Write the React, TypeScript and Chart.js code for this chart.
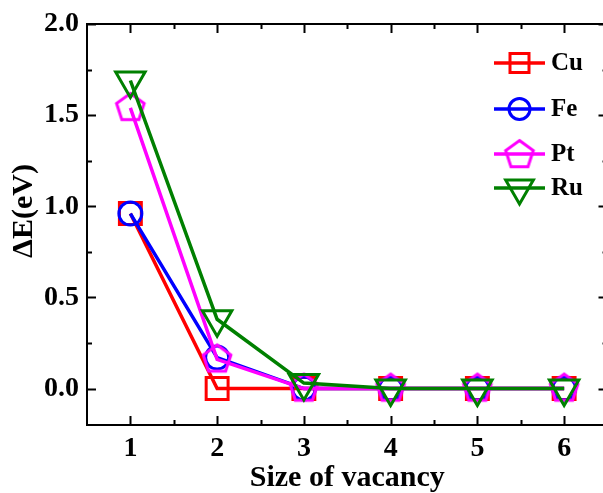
import { useEffect, useRef } from "react";
import { Chart, registerables } from "chart.js";

Chart.register(...registerables);

// ---- data ----
const sizes = [1, 2, 3, 4, 5, 6];
const cuValues = [0.96, 0, 0, 0, 0, 0];
const feValues = [0.96, 0.17, 0, 0, 0, 0];
const ptValues = [1.54, 0.16, 0, 0, 0, 0];
const ruValues = [1.69, 0.38, 0.03, 0, 0, 0];
const seriesNames = ["Cu", "Fe", "Pt", "Ru"];
const xTicks = [1, 2, 3, 4, 5, 6];
const yTicks = [0, 0.5, 1.0, 1.5, 2.0];
const xTitle = "Size of vacancy";
const yTitle = "ΔE(eV)";

const FONT = "'Liberation Serif', 'Times New Roman', serif";
const RED = "#ff0000";
const BLUE = "#0000ff";
const MAGENTA = "#ff00ff";
const GREEN = "#008000";

function makePentagon(r: number, color: string, lw: number): HTMLCanvasElement {
  const size = Math.ceil(r * 2 + lw * 2 + 4);
  const s = size % 2 === 0 ? size : size + 1;
  const c = document.createElement("canvas");
  c.width = s;
  c.height = s;
  const ctx = c.getContext("2d")!;
  ctx.strokeStyle = color;
  ctx.lineWidth = lw;
  ctx.lineJoin = "miter";
  ctx.beginPath();
  for (let i = 0; i < 5; i++) {
    const ang = -Math.PI / 2 + (i * 2 * Math.PI) / 5;
    const px = s / 2 + r * Math.cos(ang);
    const py = s / 2 + r * Math.sin(ang);
    if (i === 0) ctx.moveTo(px, py);
    else ctx.lineTo(px, py);
  }
  ctx.closePath();
  ctx.stroke();
  return c;
}

function toPoints(vals: number[]) {
  return sizes.map((s, i) => ({ x: s, y: vals[i] }));
}

export default function App() {
  const ref = useRef<HTMLCanvasElement>(null);

  useEffect(() => {
    if (!ref.current) return;
    const pentagon = makePentagon(14.5, MAGENTA, 3);

    const markerInfo: Record<string, any> = {
      Cu: { color: RED, style: "rect", radius: 15.5, rotation: 0 },
      Fe: { color: BLUE, style: "circle", radius: 11.5, rotation: 0 },
      Pt: { color: MAGENTA, style: pentagon, radius: 14.5, rotation: 0 },
      Ru: { color: GREEN, style: "triangle", radius: 17, rotation: 180 },
    };
    const valuesByName: Record<string, number[]> = {
      Cu: cuValues,
      Fe: feValues,
      Pt: ptValues,
      Ru: ruValues,
    };

    // draw order: later series on top -> put them first
    const drawOrder = [...seriesNames].reverse();
    const datasets = drawOrder.map((name) => {
      const m = markerInfo[name];
      return {
        label: name,
        data: toPoints(valuesByName[name]),
        borderColor: m.color,
        backgroundColor: "rgba(0,0,0,0)",
        borderWidth: 3.5,
        pointStyle: m.style,
        pointRadius: m.radius,
        pointRotation: m.rotation,
        pointBorderColor: m.color,
        pointBackgroundColor: "rgba(0,0,0,0)",
        pointBorderWidth: 3,
        tension: 0,
        fill: false,
      };
    });

    const framePlugin = {
      id: "frameTicks",
      beforeDatasetsDraw(chart: any) {
        const { ctx, chartArea: a, scales } = chart;
        const x = scales.x;
        const y = scales.y;
        ctx.save();
        ctx.strokeStyle = "#000";
        ctx.lineWidth = 2;
        ctx.strokeRect(a.left, a.top, a.right - a.left, a.bottom - a.top);
        ctx.beginPath();
        for (let v = 1; v <= 6.001; v += 0.5) {
          const px = Math.round(x.getPixelForValue(v)) + 0.5;
          const len = Math.abs(v - Math.round(v)) < 1e-6 ? 9 : 5;
          ctx.moveTo(px, a.bottom);
          ctx.lineTo(px, a.bottom - len);
          ctx.moveTo(px, a.top);
          ctx.lineTo(px, a.top + len);
        }
        for (let v = 0; v <= 2.001; v += 0.25) {
          const py = Math.round(y.getPixelForValue(v)) + 0.5;
          const len = Math.abs(v * 2 - Math.round(v * 2)) < 1e-6 ? 9 : 5;
          ctx.moveTo(a.left, py);
          ctx.lineTo(a.left + len, py);
          ctx.moveTo(a.right, py);
          ctx.lineTo(a.right - len, py);
        }
        ctx.stroke();

        // y title
        ctx.fillStyle = "#000";
        ctx.font = `bold 30px ${FONT}`;
        ctx.textAlign = "center";
        ctx.textBaseline = "middle";
        ctx.translate(24.5, (a.top + a.bottom) / 2 - 13.5);
        ctx.rotate(-Math.PI / 2);
        ctx.fillText(yTitle, 0, 0);
        ctx.restore();
      },
      afterDatasetsDraw(chart: any) {
        const { ctx, chartArea: a } = chart;
        const rowOffsets = [39, 85, 130, 164];
        ctx.save();
        seriesNames.forEach((name, i) => {
          const m = markerInfo[name];
          const cy = a.top + rowOffsets[i];
          const x0 = a.right - 113.5;
          const x1 = a.right - 62.5;
          const cx = (x0 + x1) / 2;
          ctx.strokeStyle = m.color;
          ctx.lineWidth = 3.5;
          ctx.beginPath();
          ctx.moveTo(x0, cy);
          ctx.lineTo(x1, cy);
          ctx.stroke();
          ctx.lineWidth = 3;
          ctx.beginPath();
          if (name === "Cu") {
            const h = 9.5;
            ctx.rect(cx - h, cy - h, 2 * h, 2 * h);
            ctx.stroke();
          } else if (name === "Fe") {
            ctx.arc(cx, cy, 10.5, 0, Math.PI * 2);
            ctx.stroke();
          } else if (name === "Pt") {
            ctx.drawImage(pentagon, cx - pentagon.width / 2, cy + 1 - pentagon.height / 2);
          } else {
            const r = 16;
            for (let k = 0; k < 3; k++) {
              const ang = Math.PI / 2 + (k * 2 * Math.PI) / 3;
              const px = cx + r * Math.cos(ang);
              const py = cy + r * Math.sin(ang);
              if (k === 0) ctx.moveTo(px, py);
              else ctx.lineTo(px, py);
            }
            ctx.closePath();
            ctx.stroke();
          }
          ctx.fillStyle = "#000";
          ctx.font = `bold 25px ${FONT}`;
          ctx.textAlign = "left";
          ctx.textBaseline = "middle";
          ctx.fillText(name, x1 + 6, cy + 1);
        });
        ctx.restore();
      },
    };

    const chart = new Chart(ref.current, {
      type: "line",
      data: { datasets: datasets as any },
      options: {
        animation: false,
        responsive: false,
        maintainAspectRatio: false,
        events: [],
        layout: { autoPadding: false, padding: { top: 24, right: 12.5, left: 0, bottom: 0 } },
        plugins: {
          legend: { display: false },
          tooltip: { enabled: false },
        },
        scales: {
          x: {
            type: "linear",
            min: 0.5,
            max: 6.5,
            grid: { display: false, drawTicks: false },
            border: { display: false },
            afterBuildTicks: (s: any) => {
              s.ticks = xTicks.map((v) => ({ value: v }));
            },
            afterFit: (s: any) => {
              s.height = 68;
              s.paddingLeft = 0;
              s.paddingRight = 0;
            },
            ticks: {
              color: "#000",
              padding: 7,
              font: { family: FONT, size: 28, weight: "bold" },
              callback: (v: any) => String(v),
            },
            title: {
              display: true,
              text: xTitle,
              color: "#000",
              padding: { top: 0, bottom: 0 },
              font: { family: FONT, size: 30, weight: "bold", lineHeight: 1 },
            },
          },
          y: {
            type: "linear",
            min: -0.2,
            max: 2.0,
            grid: { display: false, drawTicks: false },
            border: { display: false },
            afterBuildTicks: (s: any) => {
              s.ticks = yTicks.map((v) => ({ value: v }));
            },
            afterFit: (s: any) => {
              s.width = 87;
              s.paddingTop = 0;
              s.paddingBottom = 0;
            },
            ticks: {
              color: "#000",
              padding: 8,
              font: { family: FONT, size: 28, weight: "bold" },
              callback: (v: any) => Number(v).toFixed(1),
            },
          },
        },
      },
      plugins: [framePlugin],
    });

    return () => chart.destroy();
  }, []);

  return (
    <div
      style={{
        position: "fixed",
        left: 0,
        top: 0,
        width: 603,
        height: 493,
        overflow: "hidden",
        background: "#fff",
      }}
    >
      <canvas ref={ref} width={620} height={493} style={{ display: "block" }} />
    </div>
  );
}
